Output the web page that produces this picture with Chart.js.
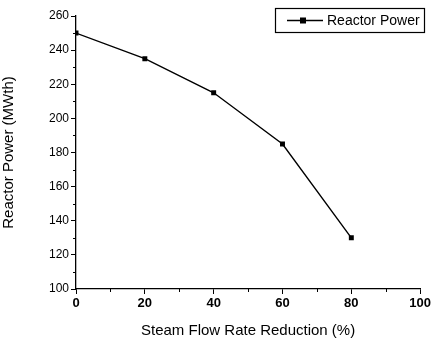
<!DOCTYPE html>
<html><head><meta charset="utf-8">
<script src="https://cdn.jsdelivr.net/npm/chart.js@4/dist/chart.umd.min.js"></script>
<style>html,body{margin:0;padding:0;background:#fff}#wrap{width:433px;height:344px}</style>
</head><body><div id="wrap"><canvas id="c" width="433" height="344"></canvas></div>
<script>
const categories = [0, 20, 40, 60, 80];
const reactorPower = [250, 235, 215, 185, 130];
const seriesName = "Reactor Power";
const xTitle = "Steam Flow Rate Reduction (%)";
const yTitle = "Reactor Power (MWth)";
const FONT = "'Liberation Sans Narrow','Liberation Sans',Arial,sans-serif";

const minorTicks = {
  id: 'minorTicks',
  afterDraw(chart) {
    const ctx = chart.ctx;
    const xs = chart.scales.x, ys = chart.scales.y;
    ctx.save();
    ctx.strokeStyle = '#000'; ctx.lineWidth = 1;
    ctx.beginPath();
    for (let v = 10; v < 100; v += 20) {
      const px = Math.round(xs.getPixelForValue(v)) + 0.5;
      ctx.moveTo(px, ys.bottom); ctx.lineTo(px, ys.bottom + 3);
    }
    for (let v = 110; v < 260; v += 20) {
      const py = Math.round(ys.getPixelForValue(v)) + 0.5;
      ctx.moveTo(xs.left, py); ctx.lineTo(xs.left - 3, py);
    }
    ctx.stroke();
    ctx.restore();
  }
};

const boxLegend = {
  id: 'boxLegend',
  afterDraw(chart) {
    const ctx = chart.ctx;
    const x0 = 275.5, y0 = 8.5, w = 149, h = 24;
    ctx.save();
    ctx.strokeStyle = '#000'; ctx.lineWidth = 1.2;
    ctx.strokeRect(x0, y0, w, h);
    const cy = y0 + h / 2;
    ctx.lineWidth = 1.3;
    ctx.beginPath(); ctx.moveTo(287, cy); ctx.lineTo(323, cy); ctx.stroke();
    ctx.fillStyle = '#000';
    ctx.fillRect(303 - 3, cy - 3, 6, 6);
    ctx.font = "14px " + FONT;
    ctx.textBaseline = 'middle';
    ctx.fillText(seriesName, 327, cy + 1);
    ctx.restore();
  }
};

new Chart(document.getElementById('c'), {
  type: 'scatter',
  data: {
    datasets: [{
      label: seriesName,
      data: categories.map((x, i) => ({x: x, y: reactorPower[i]})),
      showLine: true,
      borderColor: '#000',
      backgroundColor: '#000',
      borderWidth: 1.4,
      pointStyle: 'rect',
      pointRadius: 3.5,
      pointBorderWidth: 0
    }]
  },
  options: {
    responsive: false,
    animation: false,
    layout: {padding: {top: 16, right: 9, left: 0, bottom: 0}},
    plugins: {legend: {display: false}, tooltip: {enabled: false}},
    scales: {
      x: {
        type: 'linear', min: 0, max: 100,
        border: {display: true, color: '#000', width: 1.3},
        grid: {display: true, drawOnChartArea: false, drawTicks: true, tickLength: 5, color: '#000'},
        ticks: {stepSize: 20, color: '#000', font: {family: FONT, size: 13, weight: 'bold'}, padding: 2, maxRotation: 0},
        title: {display: true, text: xTitle, color: '#000', font: {family: FONT, size: 15}, padding: {top: 0, bottom: 4}},
        afterFit(s) { s.height = 55; }
      },
      y: {
        type: 'linear', min: 100, max: 260,
        border: {display: true, color: '#000', width: 1.3},
        grid: {display: true, drawOnChartArea: false, drawTicks: true, tickLength: 5, color: '#000'},
        ticks: {stepSize: 20, color: '#000', font: {family: FONT, size: 12}, padding: 2},
        title: {display: true, text: yTitle, color: '#000', font: {family: FONT, size: 15}, padding: {top: 0, bottom: 18}},
        afterFit(s) { s.width = 76; }
      }
    }
  },
  plugins: [minorTicks, boxLegend]
});
</script></body></html>
